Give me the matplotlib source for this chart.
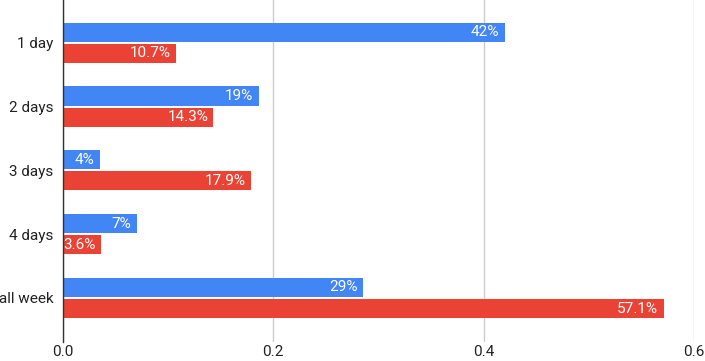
import numpy as np
import matplotlib
matplotlib.use("Agg")
import matplotlib.pyplot as plt

plt.rcParams["font.family"] = ["Roboto", "DejaVu Sans"]

categories  = ["1 day", "2 days", "3 days", "4 days", "all week"]
blue_vals   = [0.420, 0.186, 0.035, 0.070, 0.285]
red_vals    = [0.107, 0.143, 0.179, 0.036, 0.571]
blue_labels = ["42%", "19%", "4%", "7%", "29%"]
red_labels  = ["10.7%", "14.3%", "17.9%", "3.6%", "57.1%"]
ticks       = [0.0, 0.2, 0.4, 0.6]

BLUE = "#4285F4"
RED  = "#EA4335"

fig = plt.figure(figsize=(7.05, 3.61), dpi=100)
ax = fig.add_axes([63/705, 1 - 342/361, (694 - 63)/705, 342/361])

y = np.arange(len(categories))
h = 0.30
off = 0.165
bb = ax.barh(y - off, blue_vals, height=h, color=BLUE, zorder=3)
rb = ax.barh(y + off, red_vals, height=h, color=RED, zorder=3)

for bars, labels in [(bb, blue_labels), (rb, red_labels)]:
    for bar, lab in zip(bars, labels):
        ax.text(bar.get_width() - 0.005, bar.get_y() + bar.get_height()/2, lab,
                ha="right", va="center", color="white", fontsize=11, zorder=4)

ax.set_xlim(0, 0.6)
ax.set_ylim(4.69, -0.67)
ax.set_xticks(ticks)
ax.set_xticklabels([f"{t:.1f}" for t in ticks])
ax.set_yticks(y)
ax.set_yticklabels(categories)
ax.tick_params(axis="both", length=0, labelsize=11, colors="#222222")
ax.tick_params(axis="x", pad=2)
ax.tick_params(axis="y", pad=7)
ax.grid(axis="x", color="#cccccc", lw=1, zorder=0)
for s in ["top", "right", "bottom"]:
    ax.spines[s].set_visible(False)
ax.spines["left"].set_color("#333333")
ax.spines["left"].set_linewidth(1)
ax.spines["left"].set_zorder(5)

plt.savefig("out.png", dpi=100)
plt.close()
